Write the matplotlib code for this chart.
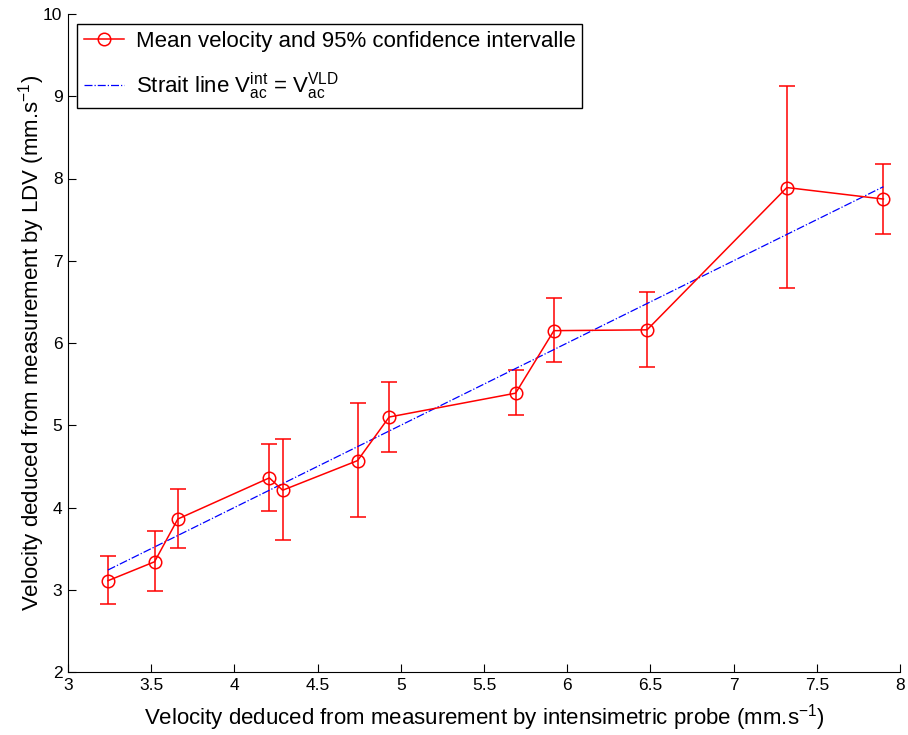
import numpy as np
import matplotlib
matplotlib.use("Agg")
import matplotlib.pyplot as plt
from matplotlib.lines import Line2D

# mean velocities, intensimetric probe (x) vs LDV (y), with 95% CI bounds
v_int = [3.24, 3.52, 3.66, 4.21, 4.29, 4.74, 4.93, 5.69, 5.92, 6.48, 7.32, 7.90]
v_ldv = [3.11, 3.34, 3.86, 4.36, 4.21, 4.57, 5.10, 5.39, 6.15, 6.16, 7.89, 7.75]
ci_high = [3.41, 3.72, 4.23, 4.77, 4.83, 5.27, 5.53, 5.67, 6.55, 6.62, 9.12, 8.18]
ci_low = [2.83, 2.99, 3.51, 3.96, 3.61, 3.88, 4.68, 5.12, 5.77, 5.71, 6.67, 7.33]

label_mean = "Mean velocity and 95% confidence intervalle"
label_line = r"Strait line V$_{\mathrm{ac}}^{\mathrm{int}}$ = V$_{\mathrm{ac}}^{\mathrm{VLD}}$"

plt.rcParams['font.family'] = ['Liberation Sans', 'DejaVu Sans']
plt.rcParams['mathtext.fontset'] = 'custom'
plt.rcParams['mathtext.rm'] = 'Liberation Sans'
plt.rcParams['mathtext.it'] = 'Liberation Sans:italic'
plt.rcParams['mathtext.default'] = 'regular'

x = np.array(v_int)
y = np.array(v_ldv)
yerr = [y - np.array(ci_low), np.array(ci_high) - y]

fig = plt.figure(figsize=(9.08, 7.35), dpi=100)
ax = fig.add_axes([68 / 908, 1 - 672 / 735, 832 / 908, 658 / 735])

ax.errorbar(x, y, yerr=yerr, color='red', ecolor='red', lw=1.1, elinewidth=1.1,
            capsize=6, capthick=1.1, marker='o', ms=9, mfc='none', mec='red', mew=1.1)
ax.plot(x, x, color='blue', ls='-.', lw=0.9)

ax.set_xlim(3, 8)
ax.set_ylim(2, 10)
ax.set_xticks(np.arange(3, 8.01, 0.5))
ax.set_xticklabels(['3', '3.5', '4', '4.5', '5', '5.5', '6', '6.5', '7', '7.5', '8'])
ax.set_yticks(np.arange(2, 10.01, 1))
ax.tick_params(direction='in', length=6, width=0.8, labelsize=12.5, pad=4)
ax.spines['top'].set_visible(False)
ax.spines['right'].set_visible(False)

ax.set_xlabel(r"Velocity deduced from measurement by intensimetric probe (mm.s$^{-1}$)", fontsize=16, labelpad=7)
ax.set_ylabel(r"Velocity deduced from measurement by LDV (mm.s$^{-1}$)", fontsize=16, labelpad=-3)

handles = [
    Line2D([], [], color='red', lw=1.1, marker='o', ms=9, mfc='none', mec='red', mew=1.1),
    Line2D([], [], color='blue', ls='-.', lw=0.9),
]
leg = ax.legend(handles, [label_mean, label_line], loc='upper left',
                bbox_to_anchor=(9 / 832, 1 - 10 / 658), borderaxespad=0,
                fontsize=16, fancybox=False, framealpha=1, edgecolor='black',
                handlelength=1.8, labelspacing=0.85, borderpad=0.3, handletextpad=0.55)
leg.get_frame().set_linewidth(1.0)

fig.savefig("out.png", dpi=100)
